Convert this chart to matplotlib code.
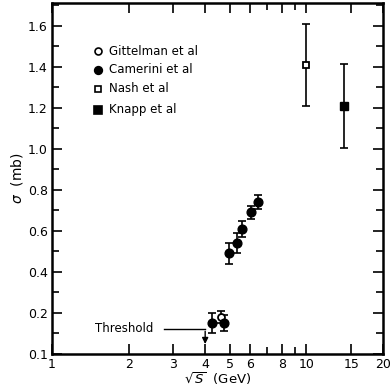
import matplotlib
matplotlib.use("Agg")
import matplotlib.pyplot as plt
from matplotlib.ticker import FixedLocator, NullFormatter

# Data
gitt_x = [4.6]
gitt_y = [0.18]
gitt_e = [0.03]

cam_x = [4.27, 4.74, 4.97, 5.35, 5.58, 6.05, 6.43]
cam_y = [0.15, 0.15, 0.49, 0.54, 0.61, 0.69, 0.74]
cam_e = [0.05, 0.04, 0.05, 0.05, 0.04, 0.03, 0.035]

nash_x = [10.0]
nash_y = [1.41]
nash_e = [0.20]

knapp_x = [14.0]
knapp_y = [1.21]
knapp_e = [0.205]

xticks = [1, 2, 3, 4, 5, 6, 8, 10, 15, 20]
xticklabels = ["1", "2", "3", "4", "5", "6", "8", "10", "15", "20"]
yticks = [0.0, 0.2, 0.4, 0.6, 0.8, 1.0, 1.2, 1.4, 1.6]
yticklabels = ["0.1", "0.2", "0.4", "0.6", "0.8", "1.0", "1.2", "1.4", "1.6"]

threshold_x = 4.0

fig = plt.figure(figsize=(3.91, 3.87), dpi=100)
ax = fig.add_axes([52/391, 1 - 354/387, (383-52)/391, (354-3)/387])
ax.set_xscale("log")
ax.set_xlim(1, 20)
ax.set_ylim(0, 1.71)

eb = dict(fmt="none", ecolor="black", elinewidth=1.2, capsize=3, capthick=1.2)
ax.errorbar(gitt_x, gitt_y, yerr=gitt_e, **eb)
ax.errorbar(cam_x, cam_y, yerr=cam_e, **eb)
ax.errorbar(nash_x, nash_y, yerr=nash_e, **eb)
ax.errorbar(knapp_x, knapp_y, yerr=knapp_e, **eb)

ax.plot(gitt_x, gitt_y, "o", ms=5, mfc="white", mec="black", mew=1.3, zorder=3)
ax.plot(cam_x, cam_y, "o", ms=6.3, mfc="black", mec="black", zorder=3)
ax.plot(nash_x, nash_y, "s", ms=5, mfc="white", mec="black", mew=1.3, zorder=3)
ax.plot(knapp_x, knapp_y, "s", ms=6, mfc="black", mec="black", zorder=3)

# Legend (manual)
leg_y = [1.475, 1.385, 1.293, 1.19]
leg_marks = [("o", "white", 5), ("o", "black", 5.5), ("s", "white", 5), ("s", "black", 5.5)]
leg_text = ["Gittelman et al", "Camerini et al", "Nash et al", "Knapp et al"]
for yy, (m, fc, ms), t in zip(leg_y, leg_marks, leg_text):
    ax.plot([1.52], [yy], m, ms=ms, mfc=fc, mec="black", mew=1.2)
    ax.text(1.67, yy, t, fontsize=8.5, va="center", ha="left")

# Threshold annotation
ax.text(1.48, 0.122, "Threshold", fontsize=8.5, va="center", ha="left")
ax.plot([2.75, threshold_x], [0.122, 0.122], color="black", lw=1)
ax.annotate("", xy=(threshold_x, 0.035), xytext=(threshold_x, 0.124),
            arrowprops=dict(arrowstyle="-|>", color="black", lw=1, mutation_scale=9))

ax.xaxis.set_major_locator(FixedLocator(xticks))
ax.set_xticklabels(xticklabels)
ax.xaxis.set_minor_locator(FixedLocator([7, 9]))
ax.xaxis.set_minor_formatter(NullFormatter())
ax.set_yticks(yticks)
ax.set_yticklabels(yticklabels)
ax.yaxis.set_minor_locator(FixedLocator([0.1, 0.3, 0.5, 0.7, 0.9, 1.1, 1.3, 1.5, 1.7]))

ax.tick_params(which="both", direction="in", top=True, right=True, labelsize=9, width=1.2)
ax.tick_params(which="major", length=7, pad=3)
ax.tick_params(which="minor", length=5)
for s in ax.spines.values():
    s.set_linewidth(1.8)

ax.set_xlabel(r"$\sqrt{S}$  (GeV)", fontsize=9.5, labelpad=-1)
ax.set_ylabel(r"$\sigma$  (mb)", fontsize=10, labelpad=2)

fig.savefig("out.png", dpi=100)
